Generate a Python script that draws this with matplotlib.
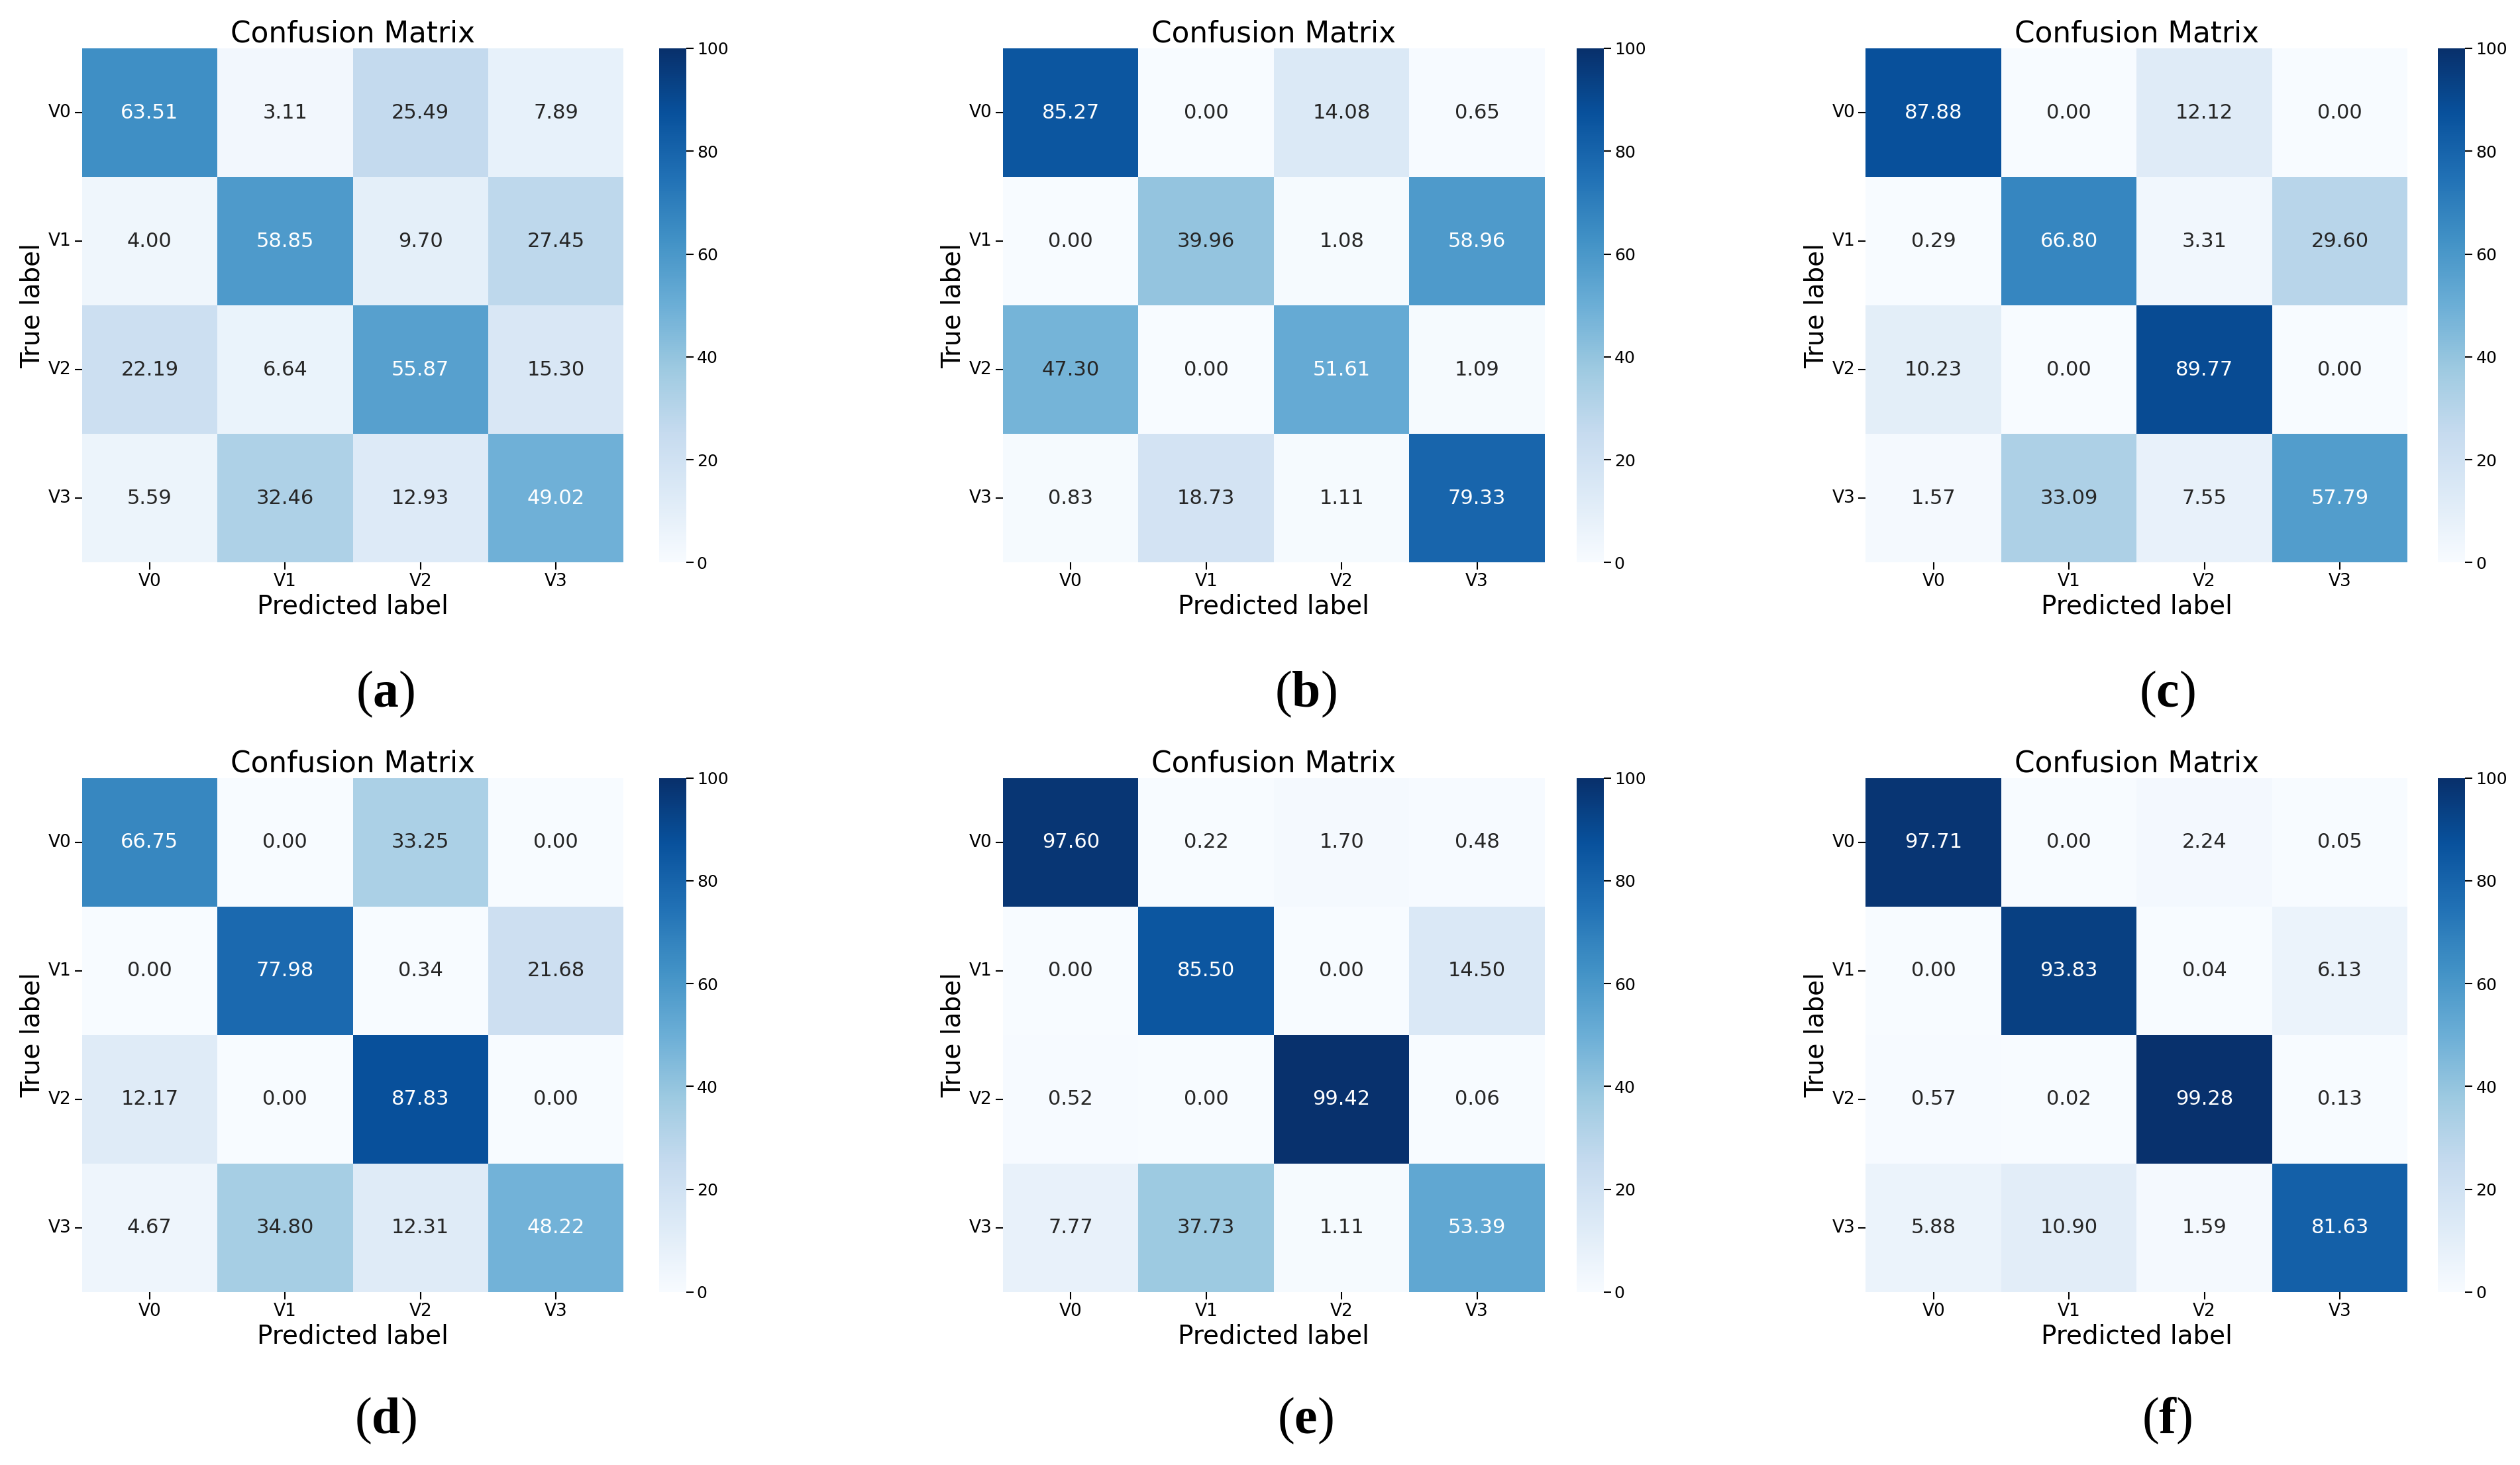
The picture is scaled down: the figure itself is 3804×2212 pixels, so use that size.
import numpy as np
import matplotlib
matplotlib.use("Agg")
import matplotlib.pyplot as plt
import seaborn as sns

labels = ["V0", "V1", "V2", "V3"]
panel_tags = ["a", "b", "c", "d", "e", "f"]

cm_a = [[63.51, 3.11, 25.49, 7.89],
        [4.00, 58.85, 9.70, 27.45],
        [22.19, 6.64, 55.87, 15.30],
        [5.59, 32.46, 12.93, 49.02]]
cm_b = [[85.27, 0.00, 14.08, 0.65],
        [0.00, 39.96, 1.08, 58.96],
        [47.30, 0.00, 51.61, 1.09],
        [0.83, 18.73, 1.11, 79.33]]
cm_c = [[87.88, 0.00, 12.12, 0.00],
        [0.29, 66.80, 3.31, 29.60],
        [10.23, 0.00, 89.77, 0.00],
        [1.57, 33.09, 7.55, 57.79]]
cm_d = [[66.75, 0.00, 33.25, 0.00],
        [0.00, 77.98, 0.34, 21.68],
        [12.17, 0.00, 87.83, 0.00],
        [4.67, 34.80, 12.31, 48.22]]
cm_e = [[97.60, 0.22, 1.70, 0.48],
        [0.00, 85.50, 0.00, 14.50],
        [0.52, 0.00, 99.42, 0.06],
        [7.77, 37.73, 1.11, 53.39]]
cm_f = [[97.71, 0.00, 2.24, 0.05],
        [0.00, 93.83, 0.04, 6.13],
        [0.57, 0.02, 99.28, 0.13],
        [5.88, 10.90, 1.59, 81.63]]
matrices = [cm_a, cm_b, cm_c, cm_d, cm_e, cm_f]

# serif panel tags: parens regular, letter bold
plt.rcParams["mathtext.fontset"] = "custom"
plt.rcParams["mathtext.rm"] = "Liberation Serif"
plt.rcParams["mathtext.bf"] = "Liberation Serif:bold"

fig = plt.figure(figsize=(38.04, 22.12), dpi=100)

# layout in figure fractions
col_left = [0.0325, 0.398, 0.7404]
col_cb = [0.2615, 0.6256, 0.9675]
row_bottom = [0.616, 0.118]
hm_w, hm_h = 0.215, 0.351
cb_w = 0.0108
tag_x = [0.153, 0.518, 0.860]
tag_y = [0.526, 0.030]

for i, (cm, tag) in enumerate(zip(matrices, panel_tags)):
    r, c = divmod(i, 3)
    ax = fig.add_axes([col_left[c], row_bottom[r], hm_w, hm_h])
    cax = fig.add_axes([col_cb[c], row_bottom[r], cb_w, hm_h])
    sns.heatmap(np.array(cm), ax=ax, cbar_ax=cax, cmap="Blues", vmin=0, vmax=100,
                annot=True, fmt=".2f", annot_kws={"fontsize": 22},
                xticklabels=labels, yticklabels=labels)
    ax.set_title("Confusion Matrix", fontsize=31.5)
    ax.set_xlabel("Predicted label", fontsize=28)
    ax.set_ylabel("True label", fontsize=28)
    ax.tick_params(axis="both", labelsize=19, length=8, width=1.5)
    ax.tick_params(axis="y", rotation=0)
    cax.tick_params(labelsize=18, length=8, width=1.5)
    cax.set_yticks([0, 20, 40, 60, 80, 100])
    fig.text(tag_x[c], tag_y[r], "(" + r"$\mathbf{" + tag + "}$" + ")",
             fontsize=56, family="Liberation Serif", ha="center", va="center")

fig.savefig("out.png", dpi=100)
